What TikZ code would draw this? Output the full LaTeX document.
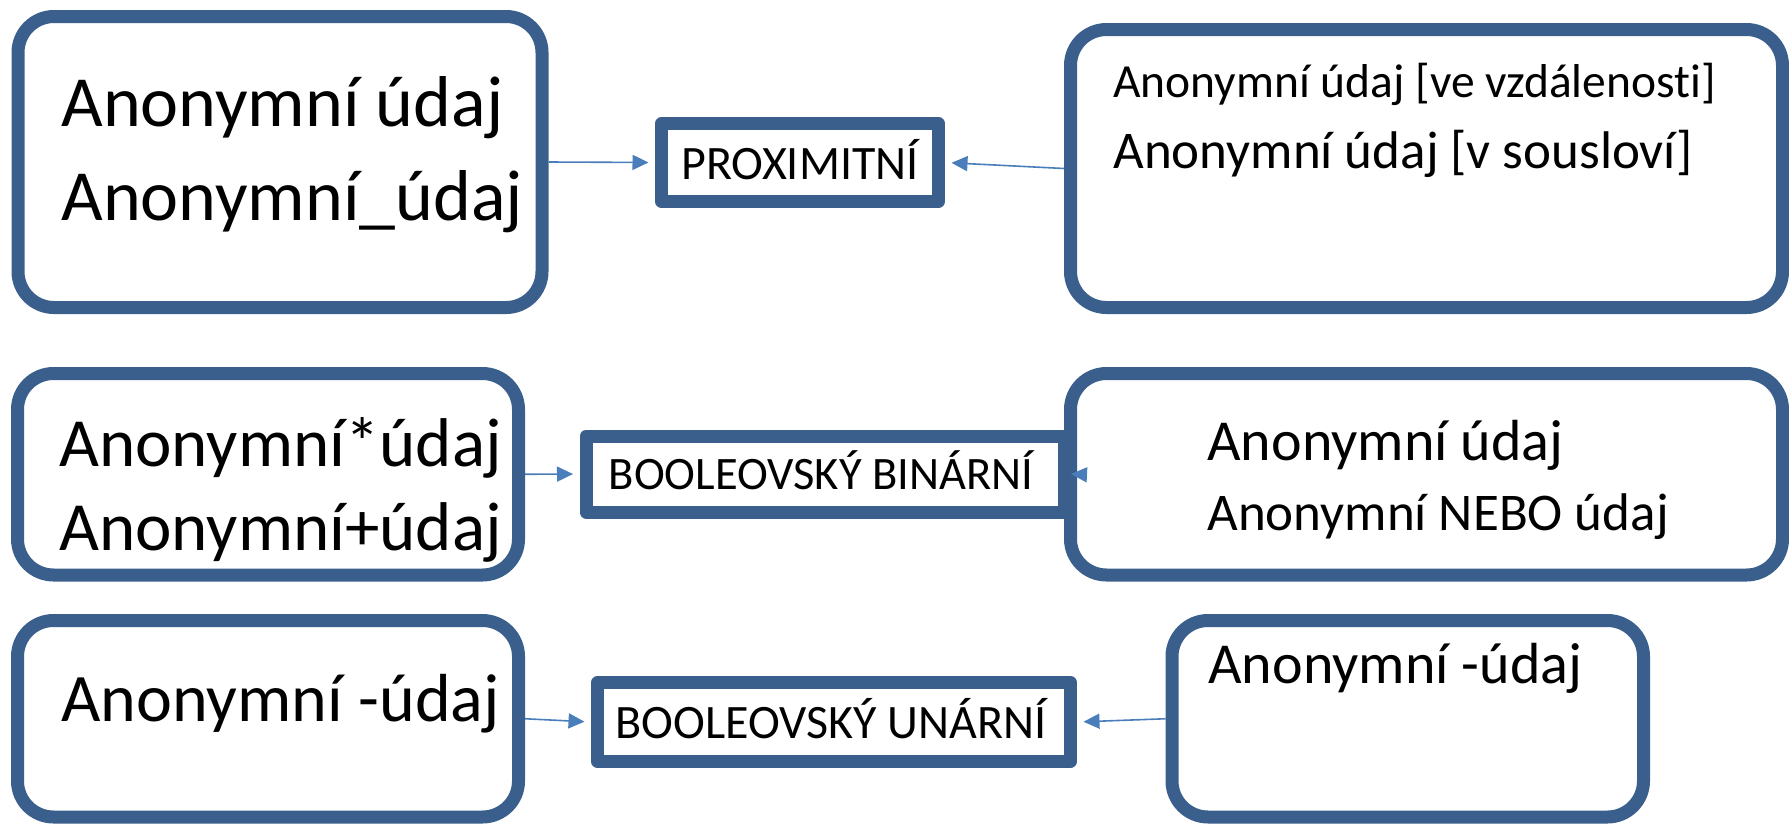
\documentclass[tikz,border=0pt]{standalone}
\usepackage{fontspec}
\setmainfont[Ligatures=NoCommon]{Carlito}
\usetikzlibrary{arrows.meta}
\definecolor{boxblue}{HTML}{3B5F8C}
\definecolor{linkblue}{HTML}{4A7EBB}

\begin{document}
\begin{tikzpicture}[x=0.5pt,y=-0.5pt,
    bigbox/.style={draw=boxblue,line width=6.5pt,rounded corners=18pt,fill=white,inner sep=0pt},
    smallbox/.style={draw=boxblue,line width=6.5pt,line join=round,fill=white,inner sep=0pt},
    txt/.style={anchor=base west,inner sep=0pt},
    mid/.style={anchor=base,inner sep=0pt},
    link/.style={draw=linkblue,line width=0.8pt,-{Triangle[length=8pt,width=7.5pt]},shorten >=3.25pt}]
  \useasboundingbox (0,0) rectangle (1789,825);

  % proximity row
  \node[bigbox,minimum width=262pt,minimum height=145.5pt] (tl) at (280,162) {};
  \node[bigbox,minimum width=356pt,minimum height=139pt] (tr) at (1426.5,168.5) {};
  \node[smallbox,minimum width=138.5pt,minimum height=39pt] (prox) at (800,162.5) {};
  \node[txt,font=\fontsize{36pt}{40pt}\selectfont] (tla) at (61,126) {Anonymní údaj};
  \node[txt,font=\fontsize{36pt}{40pt}\selectfont] (tlb) at (61,220) {Anonymní\_údaj};
  \node[txt,font=\fontsize{23.75pt}{28pt}\selectfont] (tra) at (1113,97) {Anonymní údaj [ve vzdálenosti]};
  \node[txt,font=\fontsize{26.5pt}{30pt}\selectfont] (trb) at (1113,168) {Anonymní údaj [v sousloví]};
  \node[mid,font=\fontsize{24pt}{28pt}\selectfont] (proxt) at (800,179) {PROXIMITNÍ};

  % binary row
  \node[bigbox,minimum width=250.5pt,minimum height=100.75pt] (ml) at (268,474.25) {};
  \node[smallbox,minimum width=239.25pt,minimum height=38pt] (bin) at (825.25,474) {};
  \node[bigbox,minimum width=356pt,minimum height=100.75pt] (mr) at (1426.5,474.25) {};
  \node[txt,font=\fontsize{34.5pt}{38pt}\selectfont] (mla) at (59,466) {Anonymní*údaj};
  \node[txt,font=\fontsize{34.5pt}{38pt}\selectfont] (mlb) at (59,550) {Anonymní+údaj};
  \node[mid,font=\fontsize{23.25pt}{27pt}\selectfont] (bint) at (821,489) {BOOLEOVSKÝ BINÁRNÍ};
  \node[txt,font=\fontsize{29pt}{33pt}\selectfont] (mra) at (1207,460) {Anonymní údaj};
  \node[txt,font=\fontsize{26.5pt}{30pt}\selectfont] (mrb) at (1207,530) {Anonymní NEBO údaj};

  % unary row
  \node[bigbox,minimum width=250.5pt,minimum height=98.25pt] (bl) at (268,718.75) {};
  \node[smallbox,minimum width=236.5pt,minimum height=39.5pt] (un) at (834,722) {};
  \node[bigbox,minimum width=235.75pt,minimum height=98.25pt] (br) at (1407.75,718.75) {};
  \node[txt,font=\fontsize{34pt}{38pt}\selectfont] (bla) at (61,721) {Anonymní -údaj};
  \node[mid,font=\fontsize{24pt}{28pt}\selectfont] (unt) at (831,738) {BOOLEOVSKÝ UNÁRNÍ};
  \node[txt,font=\fontsize{29pt}{33pt}\selectfont] (bra) at (1208,683) {Anonymní -údaj};

  % connectors
  \draw[link] (tl.east) -- (prox.west);
  \draw[link] (tr.west) -- (prox.east);
  \draw[link] (ml.east) -- (bin.west);
  \draw[link,shorten >=0pt] ([xshift=6pt]mr.west) -- (bin.east);
  \draw[link] (bl.east) -- (un.west);
  \draw[link] (br.west) -- (un.east);
\end{tikzpicture}
\end{document}
